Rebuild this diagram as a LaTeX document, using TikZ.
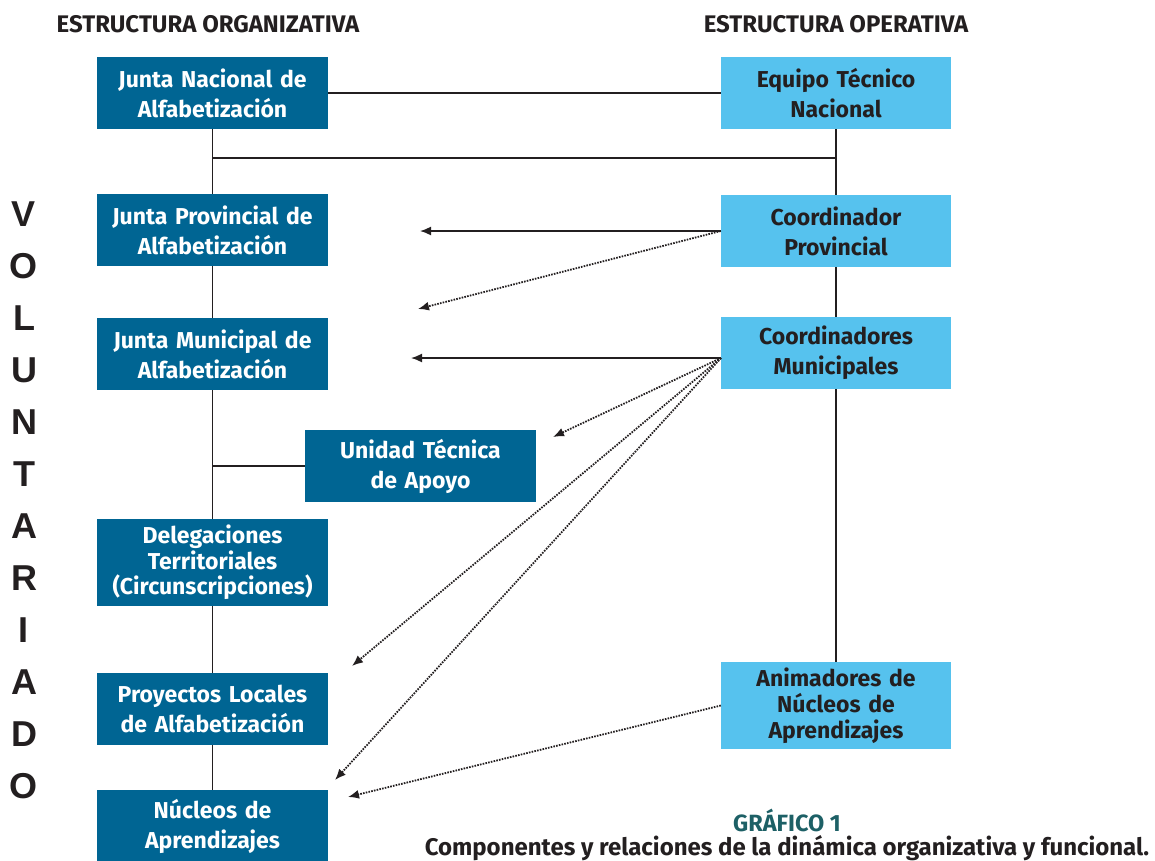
\documentclass[tikz,border=0pt]{standalone}
\usepackage{fontspec}
\setmainfont{Fira Sans}
\newfontfamily\voluntfont{Liberation Sans}
\usepackage{tikz}
\usetikzlibrary{positioning,calc,backgrounds,arrows.meta}

\definecolor{orgblue}{HTML}{006593}
\definecolor{opblue}{HTML}{56C2EE}
\definecolor{inkgray}{HTML}{231F20}
\definecolor{graftitle}{HTML}{1D6066}

\tikzset{
  orgbox/.style={fill=orgblue, text=white, minimum width=231pt, minimum height=72pt,
    text width=228pt, align=center, inner sep=0pt,
    font=\fontsize{23}{30}\selectfont\bfseries},
  opbox/.style={orgbox, fill=opblue, text=inkgray, minimum width=230pt},
  link/.style={draw=inkgray, line width=1.6pt},
  flecha/.style={link, -{Latex[length=11pt,width=9pt]}},
  punteada/.style={flecha, line width=1.8pt, dash pattern=on 1.6pt off 1.2pt},
  header/.style={font=\fontsize{24}{26}\selectfont\bfseries, text=inkgray, inner sep=0pt}
}

\begin{document}
\begin{tikzpicture}[x=1pt,y=-1pt]
  \useasboundingbox (0,0) rectangle (1155,860);

  % encabezados
  \node[header] (hdorg) at (208,24) {ESTRUCTURA ORGANIZATIVA};
  \node[header] (hdop) at (836,24) {ESTRUCTURA OPERATIVA};

  % estructura organizativa
  \node[orgbox] (nacional) at (212.5,93) {Junta Nacional de\\Alfabetizaci\'on};
  \node[orgbox] (provincial) at (212.5,230) {Junta Provincial de\\Alfabetizaci\'on};
  \node[orgbox] (municipal) at (212.5,354) {Junta Municipal de\\Alfabetizaci\'on};
  \node[orgbox] (unidad) at (420.5,466) {Unidad T\'ecnica\\de Apoyo};
  \node[orgbox, minimum height=87pt, font=\fontsize{23}{25.5}\selectfont\bfseries]
    (delegaciones) at (212.5,562.5) {Delegaciones\\Territoriales\\(Circunscripciones)};
  \node[orgbox] (proyectos) at (212.5,709) {Proyectos Locales\\de Alfabetizaci\'on};
  \node[orgbox] (nucleos) at (212.5,826) {N\'ucleos de\\Aprendizajes};

  % estructura operativa
  \node[opbox] (equipo) at (836,93) {Equipo T\'ecnico\\Nacional};
  \node[opbox] (coordprov) at (836,231) {Coordinador\\Provincial};
  \node[opbox] (coordmun) at (836,353) {Coordinadores\\Municipales};
  \node[opbox, minimum height=87pt, font=\fontsize{23}{26}\selectfont\bfseries]
    (animadores) at (836,705.5) {Animadores de\\N\'ucleos de\\Aprendizajes};

  % puntos de llegada de las flechas
  \coordinate (apProv) at (420,231);
  \coordinate (apProvDot) at (418,309);
  \coordinate (apMun) at (411,358);
  \coordinate (apUnidad) at (553,437);
  \coordinate (apProy) at (352,666);
  \coordinate (apNuc) at (335,780);
  \coordinate (apNucAnim) at (348,797);
  \coordinate (cruce) at (212.5,158);
  \coordinate (salMun) at (721,358);

  % lineas de la estructura
  \begin{scope}[on background layer]
    \draw[link] (nacional.center) -- (nucleos.center);
    \draw[link] (nacional.center) -- (equipo.center);
    \draw[link] (cruce) -- (cruce -| equipo.center);
    \draw[link] (equipo.center) -- (animadores.center);
    \draw[link] (unidad.center -| nacional.center) -- (unidad.center);
  \end{scope}

  % flechas
  \draw[flecha] (coordprov.west) -- (apProv);
  \draw[punteada] (coordprov.west) -- (apProvDot);
  \draw[flecha] (salMun) -- (apMun);
  \draw[punteada] (salMun) -- (apUnidad);
  \draw[punteada] (salMun) -- (apProy);
  \draw[punteada] (salMun) -- (apNuc);
  \draw[punteada] (animadores.west) -- (apNucAnim);

  % voluntariado
  \foreach \letra [count=\i from 0] in {V,O,L,U,N,T,A,R,I,A,D,O}
    \node[font=\voluntfont\fontsize{36}{36}\selectfont\bfseries, text=inkgray, inner sep=0pt]
      (vol\i) at (24,214+52*\i) {\letra};

  % titulo
  \node[font=\fontsize{23.5}{24}\selectfont\bfseries, text=graftitle, inner sep=0pt]
    (grafico) at (787,820) {GR\'AFICO 1};
  \node[font=\fontsize{24}{26}\selectfont\bfseries, text=inkgray, inner sep=0pt]
    (leyenda) at (787,848) {Componentes y relaciones de la din\'amica organizativa y funcional.};
\end{tikzpicture}
\end{document}
